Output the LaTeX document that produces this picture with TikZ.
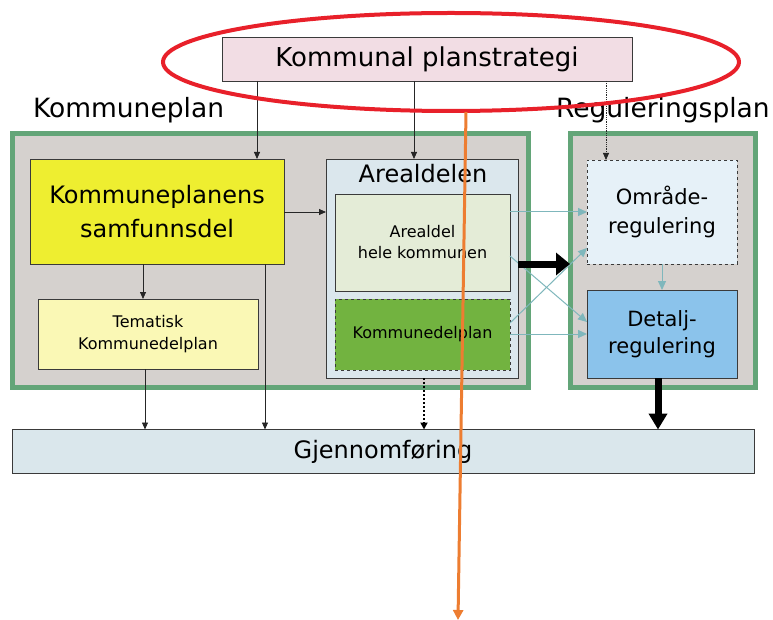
\documentclass[tikz,border=0pt]{standalone}
\usepackage{fontspec}
\setmainfont{DejaVu Sans}
\usetikzlibrary{arrows.meta,calc}
\definecolor{pinkfill}{HTML}{F2DDE4}
\definecolor{panelgray}{HTML}{D5D1CE}
\definecolor{panelgreen}{HTML}{63A578}
\definecolor{samyellow}{HTML}{EEEE30}
\definecolor{temyellow}{HTML}{FAF8B5}
\definecolor{arealblue}{HTML}{DBE7ED}
\definecolor{ahkgreen}{HTML}{E4ECD7}
\definecolor{kdpgreen}{HTML}{72B340}
\definecolor{omrblue}{HTML}{E6F1F8}
\definecolor{detblue}{HTML}{8BC3EB}
\definecolor{gjblue}{HTML}{DAE7EC}
\definecolor{tealarrow}{HTML}{7FB7BC}
\definecolor{ellred}{HTML}{E8202A}
\definecolor{orangeline}{HTML}{ED7D31}
\definecolor{boxline}{HTML}{3A3A3A}
\tikzset{
  box/.style={draw=boxline, line width=0.9pt, inner sep=0pt, outer sep=0pt, align=center},
  panel/.style={draw=panelgreen, fill=panelgray, line width=5pt},
  thinarr/.style={draw=black!85, line width=0.8pt, -{Triangle[length=7pt,width=6pt]}},
  tealarr/.style={draw=tealarrow, line width=1pt, -{Triangle[length=9pt,width=8pt]}},
  bigarr/.style={draw=black, line width=7pt, -{Triangle[length=14pt,width=22pt]}},
  lbl/.style={inner sep=0pt, outer sep=0pt}
}
\begin{document}
\begin{tikzpicture}[x=1pt,y=-1pt]
\useasboundingbox (0,0) rectangle (773,620);

% panels
\draw[panel] (12,134) rectangle (528,387);
\draw[panel] (570,134) rectangle (755,387);

% titles
\node[lbl, anchor=base west, font=\fontsize{26.5}{31}\selectfont] (kplab) at (33,118) {Kommuneplan};
\node[lbl, anchor=base west, font=\fontsize{26.5}{31}\selectfont] (reglab) at (556,118) {Reguleringsplan};

% top box
\node[box, fill=pinkfill, minimum width=410pt, minimum height=44pt, font=\fontsize{26}{31}\selectfont] (kps) at (427,59) {Kommunal planstrategi};

% left panel boxes
\node[box, fill=samyellow, minimum width=254pt, minimum height=105pt, font=\fontsize{24}{34}\selectfont] (sam) at (157,211.5) {Kommuneplanens\\samfunnsdel};
\node[box, fill=temyellow, minimum width=220pt, minimum height=70pt, font=\fontsize{16}{22}\selectfont] (tem) at (148,334) {Tematisk\\Kommunedelplan};

\node[box, fill=arealblue, minimum width=192pt, minimum height=219pt] (area) at (422,268.5) {};
\node[lbl, anchor=base, font=\fontsize{24}{28}\selectfont] (areatxt) at (423,183) {Arealdelen};
\node[box, fill=ahkgreen, minimum width=175pt, minimum height=97pt, font=\fontsize{16}{21}\selectfont] (ahk) at (422.5,242.5) {Arealdel\\hele kommunen};
\node[box, fill=kdpgreen, dashed, minimum width=175pt, minimum height=71pt, font=\fontsize{16}{21}\selectfont] (kdp) at (422.5,334.5) {Kommunedelplan};

% right panel boxes
\node[box, fill=omrblue, dashed, minimum width=150pt, minimum height=104pt, font=\fontsize{21}{29}\selectfont] (omr) at (662,212) {Område-\\regulering};
\node[box, fill=detblue, minimum width=150pt, minimum height=88pt, font=\fontsize{21}{27}\selectfont] (det) at (662,334) {Detalj-\\regulering};

% bottom box
\node[box, fill=gjblue, minimum width=742pt, minimum height=44pt, font=\fontsize{24}{28}\selectfont] (gj) at (383,451.5) {Gjennomføring};

% arrows from planstrategi
\draw[thinarr] (257,0 |- kps.south) -- (257,0 |- sam.north);
\draw[thinarr] (414,0 |- kps.south) -- (414,0 |- area.north);
\draw[draw=black!85, line width=0.8pt, densely dotted, -{Triangle[length=7pt,width=6pt]}] (606,0 |- kps.south) -- (606,0 |- omr.north);

% inside left panel
\draw[thinarr] (143,0 |- sam.south) -- (143,0 |- tem.north);
\draw[thinarr] (sam.east |- 0,212) -- (area.west |- 0,212);

% to Gjennomfoering
\draw[thinarr] (145,0 |- tem.south) -- (145,0 |- gj.north);
\draw[thinarr] (265,0 |- sam.south) -- (265,0 |- gj.north);
\draw[draw=black, line width=2pt, dotted, -{Triangle[length=7pt,width=7pt]}] (424,0 |- area.south) -- (424,0 |- gj.north);
\draw[draw=black, line width=7pt, -{Triangle[length=16pt,width=18pt]}] (658,0 |- det.south) -- (658,0 |- gj.north);

% teal arrows
\draw[tealarr] (ahk.east |- 0,212) -- (omr.west |- 0,212);
\draw[tealarr] (ahk.east |- 0,256) -- (omr.west |- 0,322);
\draw[tealarr] (kdp.east |- 0,323) -- (omr.west |- 0,248);
\draw[tealarr] (kdp.east |- 0,334) -- (det.west |- 0,334);
\draw[tealarr] (omr.south) -- (det.north);

% big arrow to right panel
\draw[bigarr] (area.east |- 0,264) -- (570,264);

% overlays
\draw[ellred, line width=4pt] (451,62) ellipse [x radius=288pt, y radius=49pt];
\coordinate (otop) at (466,112);
\coordinate (obot) at (458,620);
\draw[orangeline, line width=3pt, -{Triangle[length=10pt,width=10pt]}] (otop) -- (obot);
\end{tikzpicture}
\end{document}
